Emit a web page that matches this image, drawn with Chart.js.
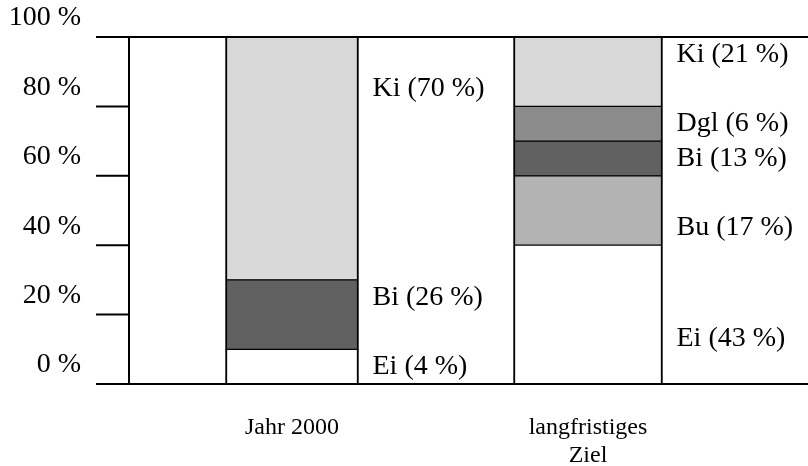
<!DOCTYPE html>
<html>
<head>
<meta charset="utf-8">
<script src="https://cdn.jsdelivr.net/npm/chart.js@4.4.0/dist/chart.umd.min.js"></script>
<style>
  html, body { margin:0; padding:0; background:#fff; }
  #wrap { width:808px; height:466px; }
</style>
</head>
<body>
<div id="wrap"><canvas id="chart" width="808" height="466"></canvas></div>
<script>
// categories (x axis)
const categories = ["Jahr 2000", ["langfristiges", "Ziel"]];

// Jahr 2000 — segments bottom to top, drawn height and printed share
const names2000  = ["Ei", "Bi", "Ki"];
const values2000 = [10, 20, 70];
const shares2000 = [4, 26, 70];
const labelAt2000 = [5, 25, 85];

// langfristiges Ziel — segments bottom to top
const namesZiel  = ["Ei", "Bu", "Bi", "Dgl", "Ki"];
const valuesZiel = [40, 20, 10, 10, 20];
const sharesZiel = [43, 17, 13, 6, 21];
const labelAtZiel = [13, 45, 65, 75, 95];

const yTicks = [0, 20, 40, 60, 80, 100];

const fills = { Ei:"#ffffff", Bu:"#b3b3b3", Bi:"#616161", Dgl:"#8c8c8c", Ki:"#d9d9d9" };
const FONT = "'Liberation Serif', 'Times New Roman', serif";

function makeSets(names, values, shares, labelAt, idx, thickness){
  return names.map((n,i)=>({
    label: n,
    data: categories.map((_,c)=> c===idx ? values[i] : null),
    share: shares[i],
    labelAt: labelAt[i],
    backgroundColor: fills[n],
    borderColor: "#000",
    borderWidth: {top:1, bottom:1, left:2, right:2},
    borderSkipped: false,
    barThickness: thickness,
  }));
}

const datasets = [
  ...makeSets(names2000, values2000, shares2000, labelAt2000, 0, 133),
  ...makeSets(namesZiel, valuesZiel, sharesZiel, labelAtZiel, 1, 149),
];

// frame lines + the short tick strokes on the left
const framePlugin = {
  id: "frame",
  afterDatasetsDraw(chart){
    const {ctx, chartArea:a, scales:{y}} = chart;
    const x0 = a.left - 48, x1 = a.left - 15;
    ctx.save();
    ctx.strokeStyle = "#000";
    ctx.lineWidth = 2;
    ctx.beginPath();
    ctx.moveTo(x0, a.top); ctx.lineTo(chart.width, a.top);
    ctx.moveTo(x0, a.bottom); ctx.lineTo(chart.width, a.bottom);
    ctx.moveTo(x1, a.top); ctx.lineTo(x1, a.bottom);
    yTicks.slice(1, -1).forEach(v=>{
      const py = y.getPixelForValue(v);
      ctx.moveTo(x0, py); ctx.lineTo(x1, py);
    });
    ctx.stroke();
    ctx.restore();
  }
};

// segment names next to each bar
const segLabels = {
  id: "segLabels",
  afterDraw(chart){
    const {ctx, scales:{y}} = chart;
    ctx.save();
    ctx.font = "28px " + FONT;
    ctx.fillStyle = "#000";
    ctx.textAlign = "left";
    ctx.textBaseline = "middle";
    chart.data.datasets.forEach((ds,di)=>{
      const meta = chart.getDatasetMeta(di);
      ds.data.forEach((v,i)=>{
        if (v==null) return;
        const bar = meta.data[i];
        ctx.fillText(`${ds.label} (${ds.share} %)`, bar.x + bar.width/2 + 14, y.getPixelForValue(ds.labelAt));
      });
    });
    ctx.restore();
  }
};

Chart.defaults.font.family = FONT;
Chart.defaults.color = "#000";

new Chart(document.getElementById("chart"), {
  type: "bar",
  data: { labels: categories, datasets },
  options: {
    responsive: false,
    animation: false,
    layout: { padding: { top: 37, right: 72, bottom: 0, left: 0 } },
    plugins: { legend: { display: false }, tooltip: { enabled: false } },
    scales: {
      x: {
        stacked: true,
        grid: { display: false, drawTicks: false },
        border: { display: false },
        ticks: { font: { size: 24, lineHeight: 1.2 }, padding: 29, maxRotation: 0, autoSkip: false },
        afterFit(s){ s.height = 82; s.paddingLeft = 0; s.paddingRight = 0; }
      },
      y: {
        stacked: true,
        min: 0, max: 100,
        grid: { display: false, drawTicks: false },
        border: { display: false },
        afterBuildTicks(s){ s.ticks = yTicks.map(v=>({value:v})); },
        ticks: { font: { size: 28 }, padding: 63, labelOffset: -19, callback: v => v + " %" },
        afterFit(s){ s.width = 144; s.paddingTop = 0; s.paddingBottom = 0; }
      }
    }
  },
  plugins: [framePlugin, segLabels]
});
</script>
</body>
</html>
